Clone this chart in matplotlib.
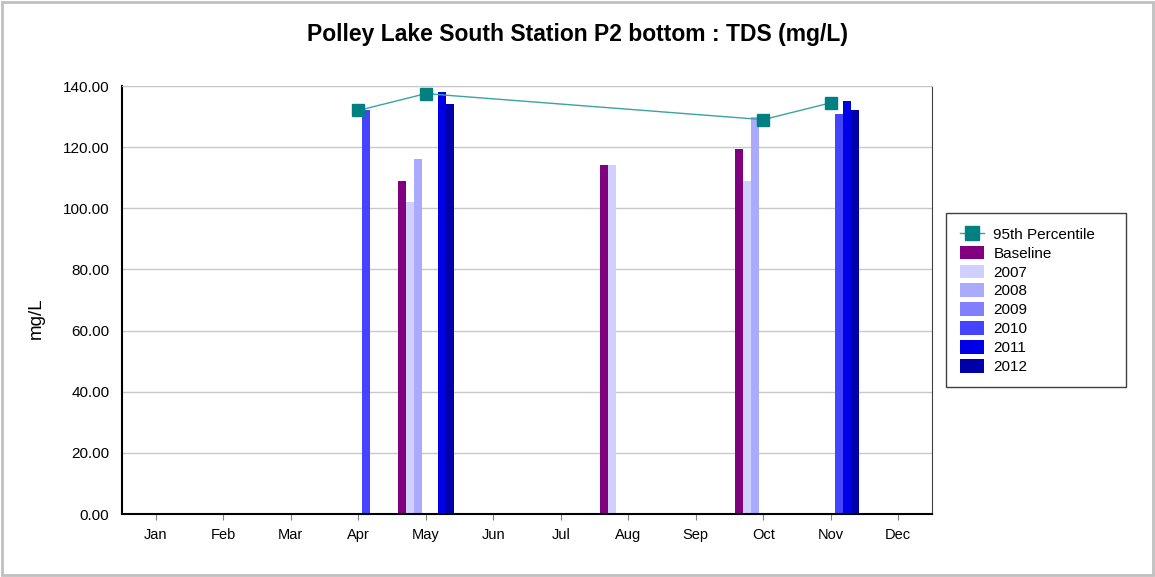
import numpy as np
import matplotlib.pyplot as plt
from matplotlib.patches import Patch, Rectangle
from matplotlib.lines import Line2D

plt.rcParams['font.family'] = ['Liberation Sans', 'DejaVu Sans']

# Datos
meses = ['Jan', 'Feb', 'Mar', 'Apr', 'May', 'Jun', 'Jul', 'Aug', 'Sep', 'Oct', 'Nov', 'Dec']
nan = np.nan
percentil_95 = [nan, nan, nan, 132.0, 137.5, nan, nan, nan, nan, 129.0, 134.5, nan]
baseline = [nan, nan, nan, nan, 109.0, nan, nan, 114.0, nan, 119.5, nan, nan]
a2007 = [nan, nan, nan, nan, 102.0, nan, nan, 114.0, nan, 109.0, nan, nan]
a2008 = [nan, nan, nan, nan, 116.0, nan, nan, nan, nan, 130.0, nan, nan]
a2009 = [nan] * 12
a2010 = [nan, nan, nan, 132.0, nan, nan, nan, nan, nan, nan, 131.0, nan]
a2011 = [nan, nan, nan, nan, 138.0, nan, nan, nan, nan, nan, 135.0, nan]
a2012 = [nan, nan, nan, nan, 134.0, nan, nan, nan, nan, nan, 132.0, nan]

series = [('Baseline', baseline, '#800080'),
          ('2007', a2007, '#d0d0ff'),
          ('2008', a2008, '#aaaaff'),
          ('2009', a2009, '#8080ff'),
          ('2010', a2010, '#4444ff'),
          ('2011', a2011, '#0000e6'),
          ('2012', a2012, '#0000aa')]

fig = plt.figure(figsize=(11.55, 5.77), dpi=100)
ax = fig.add_axes([122 / 1155, 1 - 514 / 577, (932 - 122) / 1155, (514 - 86) / 577])

# Borde exterior
fig.patches.append(Rectangle((0.002, 0.003), 0.996, 0.994, transform=fig.transFigure,
                             fill=False, edgecolor='#c0c0c0', linewidth=2))

x = np.arange(len(meses))
w = 8 / 67.5
for i, (nombre, valores, color) in enumerate(series):
    ax.bar(x + (i - 3) * w, valores, width=w, color=color, linewidth=0, zorder=2)

p95 = np.array(percentil_95)
ok = ~np.isnan(p95)
ax.plot(x[ok], p95[ok], color='#3aa3a3', linewidth=1, zorder=3)
ax.plot(x[ok], p95[ok], 's', color='#008080', markersize=9, linestyle='none', zorder=4)

ax.set_xlim(-0.5, 11.5)
ax.set_ylim(0, 140)
ax.set_yticks(np.arange(0, 141, 20))
ax.set_yticklabels(['%.2f' % v for v in np.arange(0, 141, 20)], fontsize=11)
ax.set_xticks(x)
ax.set_xticklabels(meses, fontsize=10.5)
ax.tick_params(axis='x', direction='out', length=4, color='#808080', pad=6)
ax.tick_params(axis='y', length=0, pad=9)
ax.yaxis.grid(True, color='#c8c8c8', linewidth=1, zorder=0)
ax.set_axisbelow(True)
for lado in ['left', 'bottom']:
    ax.spines[lado].set_linewidth(1.5)
    ax.spines[lado].set_color('black')
ax.spines['top'].set_color('#c8c8c8')
ax.spines['right'].set_color('#404040')

fig.text(36 / 1155, 1 - 318 / 577, 'mg/L', rotation=90, ha='center', va='center', fontsize=13.5)
fig.text(0.5, 1 - 35 / 577, 'Polley Lake South Station P2 bottom : TDS (mg/L)',
         ha='center', va='center', fontsize=16.5, fontweight='bold')

# Recuadro de la leyenda
fig.patches.append(Rectangle((946 / 1155, 1 - 387 / 577), 180 / 1155, 174 / 577,
                             transform=fig.transFigure, fill=False,
                             edgecolor='#404040', linewidth=1))

handles = [Line2D([], [], color='#3aa3a3', marker='s', markerfacecolor='#008080',
                  markeredgecolor='#008080', markersize=10, linewidth=1)]
labels = ['95th Percentile']
for nombre, valores, color in series:
    handles.append(Patch(facecolor=color, edgecolor='none'))
    labels.append(nombre)
leg = fig.legend(handles, labels, loc='upper left', bbox_to_anchor=(946 / 1155, 1 - 213 / 577),
                 fontsize=11, frameon=False, handlelength=1.6, handleheight=1.0,
                 labelspacing=0.25, borderpad=0.9, handletextpad=0.6, borderaxespad=0)

fig.savefig('out.png', dpi=100)
